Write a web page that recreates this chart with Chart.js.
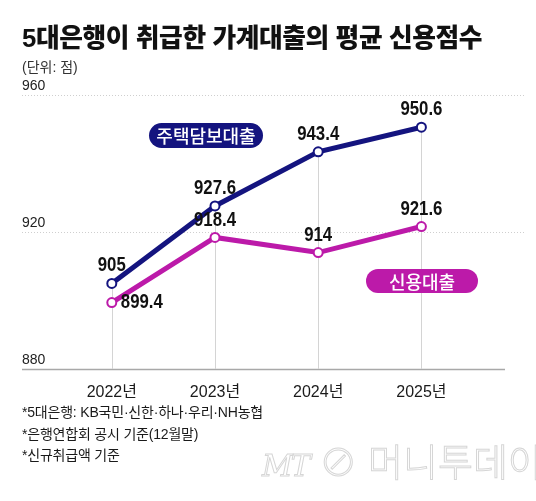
<!DOCTYPE html>
<html lang="ko">
<head>
<meta charset="utf-8">
<script src="https://cdn.jsdelivr.net/npm/chart.js@4.4.1/dist/chart.umd.min.js"></script>
<style>
  html, body { margin: 0; padding: 0; background: #fff; }
  #wrap { position: relative; width: 536px; height: 501px; overflow: hidden; font-family: "Liberation Sans", "Noto Sans CJK KR", sans-serif; }
  #chart { position: absolute; left: 0; top: 0; }
  .txt { position: absolute; left: 22px; white-space: nowrap; color: #1a1a1a; }
  #title { top: 22px; font-size: 26px; font-weight: 900; line-height: 32px; transform: scaleX(0.99); transform-origin: left center; color: #111; letter-spacing: -0.4px; }
  #unit { top: 58px; font-size: 14px; line-height: 18px; color: #333; }
  .note { font-size: 14px; line-height: 18px; letter-spacing: -0.2px; color: #1a1a1a; }
  #mark { position: absolute; left: 262px; top: 438px; font-size: 38px; line-height: 44px; color: #fff; -webkit-text-stroke: 1px #d6d6d6; white-space: nowrap; font-family: "Noto Sans CJK KR", sans-serif; font-weight: 300; }
  #mark i { font-family: "DejaVu Serif", serif; font-size: 30px; letter-spacing: -2px; }
</style>
</head>
<body>
<div id="wrap">
  <canvas id="chart" width="536" height="501"></canvas>
  <div class="txt" id="title">5대은행이 취급한 가계대출의 평균 신용점수</div>
  <div class="txt" id="unit">(단위: 점)</div>
  <div class="txt note" style="top:403px">*5대은행: KB국민·신한·하나·우리·NH농협</div>
  <div class="txt note" style="top:425px">*은행연합회 공시 기준(12월말)</div>
  <div class="txt note" style="top:446px">*신규취급액 기준</div>
  <div id="mark"><i>MT</i> ⊘ 머니투데이</div>
</div>
<script>
(function(){
  const years = [2022, 2023, 2024, 2025];
  const mortgage = [905, 927.6, 943.4, 950.6];   // 주택담보대출
  const credit = [899.4, 918.4, 914, 921.6];      // 신용대출
  const yTicks = [880, 920, 960];
  const seriesNames = ['주택담보대출', '신용대출'];

  const NAVY = '#14147f';
  const MAGENTA = '#bc1aa9';

  // label offsets per point (dx, dy from the point, align)
  const labelPos = [
    [[0,-8,'center'], [0,-7,'center'], [0,-7,'center'], [0,-8,'center']],
    [[9,0,'left'], [0,-7,'center'], [0,-7,'center'], [0,-7,'center']]
  ];
  // legend pills: left, top, width, height
  const pills = [
    { text: seriesNames[0], color: NAVY, x: 149, y: 123, w: 114, h: 25 },
    { text: seriesNames[1], color: MAGENTA, x: 366, y: 269, w: 112, h: 24 }
  ];

  const decor = {
    id: 'decor',
    beforeDatasetsDraw(chart){
      const {ctx, chartArea, scales:{x, y}} = chart;
      ctx.save();
      // horizontal grid
      yTicks.forEach(v => {
        const py = Math.round(y.getPixelForValue(v)) + 0.5;
        ctx.beginPath();
        if(v === yTicks[0]){
          ctx.strokeStyle = '#a8a8a8'; ctx.lineWidth = 1.5; ctx.setLineDash([]);
          ctx.moveTo(chartArea.left, py); ctx.lineTo(chartArea.right, py);
        } else {
          ctx.strokeStyle = '#cfcfcf'; ctx.lineWidth = 1; ctx.setLineDash([1,2]);
          ctx.moveTo(chartArea.left, py); ctx.lineTo(chartArea.right + 20, py);
        }
        ctx.stroke();
      });
      // drop lines from top point
      ctx.setLineDash([]);
      ctx.strokeStyle = '#d4d4d4'; ctx.lineWidth = 1;
      years.forEach((yr, i) => {
        const px = Math.round(x.getPixelForValue(yr)) + 0.5;
        const top = y.getPixelForValue(Math.max(mortgage[i], credit[i]));
        ctx.beginPath(); ctx.moveTo(px, top); ctx.lineTo(px, chartArea.bottom); ctx.stroke();
      });
      ctx.restore();
    },
    afterDatasetsDraw(chart){
      const {ctx} = chart;
      ctx.save();
      // value labels, slightly condensed
      chart.data.datasets.forEach((ds, di) => {
        const meta = chart.getDatasetMeta(di);
        meta.data.forEach((pt, i) => {
          const [dx, dy, align] = labelPos[di][i];
          const txt = String(ds.data[i].y);
          ctx.save();
          ctx.translate(pt.x + dx, pt.y + dy);
          ctx.scale(0.84, 1);
          ctx.font = 'bold 20px "Liberation Sans", Arial, sans-serif';
          ctx.fillStyle = '#111';
          ctx.textAlign = align;
          ctx.textBaseline = align === 'left' ? 'middle' : 'bottom';
          ctx.fillText(txt, 0, 0);
          ctx.restore();
        });
      });
      // series pills
      pills.forEach(p => {
        const r = p.h / 2;
        ctx.beginPath();
        ctx.moveTo(p.x + r, p.y);
        ctx.lineTo(p.x + p.w - r, p.y);
        ctx.arc(p.x + p.w - r, p.y + r, r, -Math.PI/2, Math.PI/2);
        ctx.lineTo(p.x + r, p.y + p.h);
        ctx.arc(p.x + r, p.y + r, r, Math.PI/2, Math.PI*1.5);
        ctx.closePath();
        ctx.fillStyle = p.color; ctx.fill();
        ctx.fillStyle = '#fff';
        ctx.font = '500 18px "Noto Sans CJK KR", sans-serif';
        ctx.textAlign = 'center'; ctx.textBaseline = 'middle';
        ctx.fillText(p.text, p.x + p.w/2, p.y + p.h/2 + 1);
      });
      ctx.restore();
    }
  };

  const toPoints = arr => arr.map((v, i) => ({ x: years[i], y: v }));

  new Chart(document.getElementById('chart'), {
    type: 'line',
    data: {
      datasets: [
        { label: seriesNames[0], data: toPoints(mortgage), borderColor: NAVY, borderWidth: 5,
          pointRadius: 4.5, pointBorderWidth: 2, pointBackgroundColor: '#fff', pointBorderColor: NAVY, tension: 0 },
        { label: seriesNames[1], data: toPoints(credit), borderColor: MAGENTA, borderWidth: 5,
          pointRadius: 4.5, pointBorderWidth: 2, pointBackgroundColor: '#fff', pointBorderColor: MAGENTA, tension: 0 }
      ]
    },
    options: {
      responsive: false,
      animation: false,
      devicePixelRatio: 1,
      layout: { padding: { left: 22, right: 31, top: 95, bottom: 92 } },
      plugins: { legend: { display: false }, tooltip: { enabled: false } },
      scales: {
        x: {
          type: 'linear', min: 2021.13, max: 2025.81,
          grid: { display: false }, border: { display: false },
          afterBuildTicks: s => { s.ticks = years.map(v => ({ value: v })); },
          afterFit: s => { s.height = 40; },
          ticks: { autoSkip: false, maxRotation: 0, padding: 6, color: '#1a1a1a',
            font: { size: 16, family: '"Liberation Sans", "Noto Sans CJK KR", sans-serif' },
            callback: v => v + '년' }
        },
        y: {
          min: 880, max: 960,
          grid: { display: false }, border: { display: false },
          afterBuildTicks: s => { s.ticks = yTicks.map(v => ({ value: v })); },
          afterFit: s => { s.width = 0; },
          ticks: { mirror: true, padding: 0, labelOffset: -9, color: '#222',
            font: { size: 14, family: '"Liberation Sans", sans-serif' } }
        }
      }
    },
    plugins: [decor]
  });
})();
</script>
</body>
</html>
